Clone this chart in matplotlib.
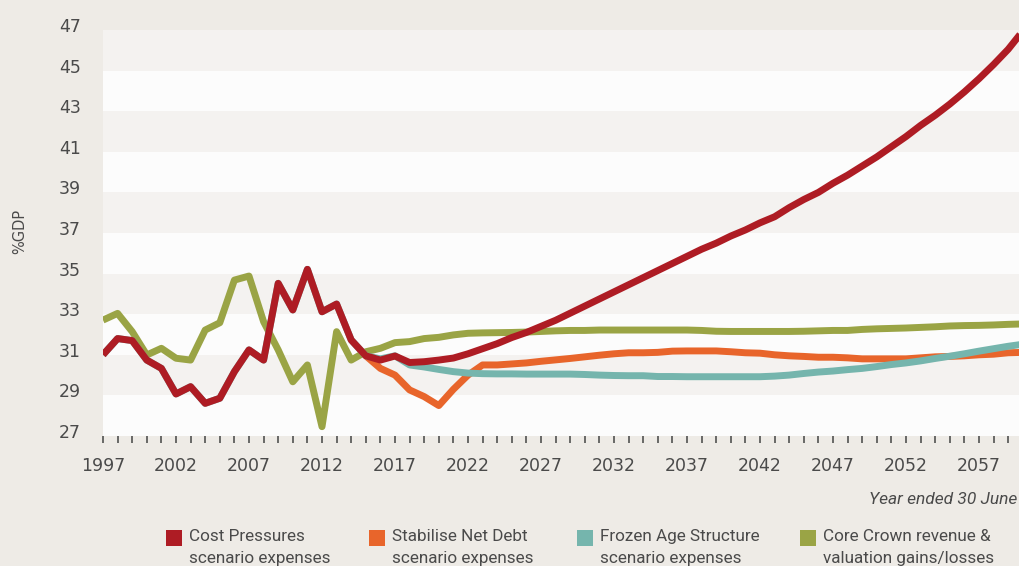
import numpy as np
import matplotlib.pyplot as plt
from matplotlib.patches import Rectangle
from matplotlib.transforms import ScaledTranslation

# history shared by the three expense scenarios (1997-2015)
hist_years = np.arange(1997, 2016)
hist_expenses = [31.0, 31.8, 31.7, 30.74, 30.33, 29.07, 29.43, 28.61, 28.86, 30.17,
                 31.24, 30.74, 34.52, 33.21, 35.21, 33.12, 33.50, 31.73, 30.95]

# projections 2015-2060
proj_years = np.arange(2015, 2061)
cost_pressures = [30.95, 30.74, 30.94, 30.62, 30.66, 30.74, 30.84, 31.05, 31.3, 31.55,
                  31.85, 32.1, 32.4, 32.7, 33.05, 33.4, 33.75, 34.1, 34.45, 34.8,
                  35.15, 35.5, 35.85, 36.2, 36.5, 36.85, 37.15, 37.5, 37.8, 38.25,
                  38.65, 39.0, 39.45, 39.85, 40.3, 40.75, 41.25, 41.75, 42.3, 42.8,
                  43.35, 43.95, 44.6, 45.3, 46.05, 46.95]
stabilise_debt = [30.95, 30.33, 30.0, 29.27, 28.94, 28.5, 29.3, 30.0, 30.5, 30.5,
                  30.55, 30.6, 30.68, 30.75, 30.82, 30.9, 30.98, 31.05, 31.1, 31.1,
                  31.12, 31.18, 31.19, 31.19, 31.19, 31.15, 31.1, 31.08, 31.0, 30.95,
                  30.92, 30.88, 30.88, 30.85, 30.8, 30.8, 30.8, 30.8, 30.85, 30.9,
                  30.92, 30.95, 31.0, 31.03, 31.1, 31.12]
frozen_age = [30.95, 30.8, 30.95, 30.5, 30.4, 30.28, 30.17, 30.1, 30.07, 30.06,
              30.06, 30.05, 30.05, 30.05, 30.05, 30.03, 30.0, 29.98, 29.97, 29.97,
              29.93, 29.93, 29.92, 29.92, 29.92, 29.92, 29.92, 29.92, 29.95, 30.0,
              30.08, 30.15, 30.2, 30.27, 30.33, 30.42, 30.52, 30.6, 30.7, 30.82,
              30.93, 31.05, 31.18, 31.3, 31.42, 31.52]

# core crown revenue 1997-2060
rev_years = np.arange(1997, 2061)
core_revenue = [32.71, 33.04, 32.14, 30.99, 31.32, 30.83, 30.74, 32.22, 32.58, 34.68,
                34.88, 32.63, 31.24, 29.67, 30.50, 27.46, 32.14, 30.74, 31.15, 31.32,
                31.6, 31.65, 31.8, 31.86, 31.98, 32.06, 32.08, 32.09, 32.1, 32.12,
                32.15, 32.18, 32.2, 32.2, 32.22, 32.22, 32.22, 32.22, 32.22, 32.22,
                32.22, 32.2, 32.16, 32.15, 32.15, 32.15, 32.15, 32.15, 32.16, 32.18,
                32.2, 32.2, 32.25, 32.28, 32.3, 32.32, 32.35, 32.38, 32.42, 32.44,
                32.45, 32.47, 32.5, 32.52]

legend_labels = ['Cost Pressures\nscenario expenses',
                 'Stabilise Net Debt\nscenario expenses',
                 'Frozen Age Structure\nscenario expenses',
                 'Core Crown revenue &\nvaluation gains/losses']

c_red = '#AE1C24'
c_orange = '#E8652B'
c_teal = '#75B5AD'
c_olive = '#9AA445'
bg = '#EEEBE6'
txt = '#4a4a4a'

W, H = 1019, 566
fig = plt.figure(figsize=(W / 100, H / 100), dpi=100, facecolor=bg)
ax = fig.add_axes([103 / W, 1 - 436 / H, (W - 103) / W, 406 / H])
ax.set_facecolor('#FCFCFC')

for i, lo in enumerate(range(27, 47, 2)):
    col = '#F4F2F0' if i % 2 == 1 else '#FCFCFC'
    ax.axhspan(lo, lo + 2, color=col, lw=0, zorder=0)

lw = 5
kw = dict(lw=lw, solid_joinstyle='round', solid_capstyle='butt', clip_on=True)
ax.plot(rev_years, core_revenue, color=c_olive, zorder=2, **kw)
ax.plot(proj_years, stabilise_debt, color=c_orange, zorder=3, **kw)
ax.plot(proj_years, frozen_age, color=c_teal, zorder=4, **kw)
ax.plot(hist_years, hist_expenses, color=c_teal, zorder=4, **kw)
ax.plot(np.concatenate([hist_years, proj_years[1:]]),
        hist_expenses + cost_pressures[1:], color=c_red, zorder=5, **kw)

ax.set_xlim(1997, 1997 + (W - 103) / 14.6)
ax.set_ylim(27, 47)
for s in ax.spines.values():
    s.set_visible(False)

ax.set_xticks(np.arange(1997, 2060))
ax.set_xticklabels([str(y) if (y - 1997) % 5 == 0 else '' for y in range(1997, 2060)])
ax.tick_params(axis='x', length=5, width=1.1, color='#444444', direction='out',
               pad=10, labelsize=12.5, labelcolor=txt)

ax.set_yticks(np.arange(27, 48, 2))
ax.tick_params(axis='y', length=0, pad=16, labelsize=12.5, labelcolor=txt)
off = ScaledTranslation(0, 5 / 100, fig.dpi_scale_trans)
for lab in ax.get_yticklabels():
    lab.set_transform(lab.get_transform() + off)

fig.text(20 / W, 1 - 231 / H, '%GDP', rotation=90, ha='center', va='center',
         fontsize=10.5, color=txt)
fig.text(1017 / W, 1 - 499 / H, 'Year ended 30 June', ha='right', va='center',
         fontsize=12.5, style='italic', color=txt, family='Roboto')

colors = [c_red, c_orange, c_teal, c_olive]
box_x = [166, 369, 577, 800]
for x0, col, lab in zip(box_x, colors, legend_labels):
    fig.patches.append(Rectangle((x0 / W, 1 - 546 / H), 16 / W, 16 / H,
                                 transform=fig.transFigure, facecolor=col, lw=0))
    fig.text((x0 + 23) / W, 1 - 529 / H, lab, ha='left', va='top', fontsize=12.3,
             color=txt, family='Roboto', linespacing=1.55)

fig.savefig('out.png', dpi=100, facecolor=bg)
